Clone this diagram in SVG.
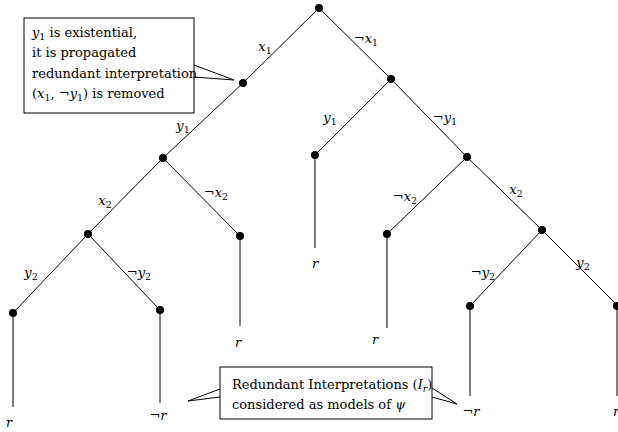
<svg xmlns="http://www.w3.org/2000/svg" width="618" height="432" viewBox="0 0 618 432">
<style>
.e{stroke:#000;stroke-width:1;fill:none}
.d{fill:#000}
.m{font-family:"DejaVu Serif","Liberation Serif",serif;font-size:13px;font-style:italic;text-anchor:middle}
.s{font-size:9.5px;font-style:normal}
.n{font-style:normal}
.t{font-family:"DejaVu Serif","Liberation Serif",serif;font-size:13px}
.box{fill:#fff;stroke:#000;stroke-width:1}
</style>
<rect width="618" height="432" fill="#fff"/>
<g id="connectors">
<line class="e" x1="319" y1="8" x2="243" y2="83"/>
<line class="e" x1="319" y1="8" x2="391" y2="79"/>
<line class="e" x1="243" y1="83" x2="163" y2="158"/>
<line class="e" x1="163" y1="158" x2="88" y2="234"/>
<line class="e" x1="163" y1="158" x2="240" y2="236"/>
<line class="e" x1="88" y1="234" x2="13" y2="313"/>
<line class="e" x1="88" y1="234" x2="160" y2="310"/>
<line class="e" x1="391" y1="79" x2="315" y2="155"/>
<line class="e" x1="391" y1="79" x2="467" y2="157"/>
<line class="e" x1="467" y1="157" x2="387" y2="234"/>
<line class="e" x1="467" y1="157" x2="542" y2="230"/>
<line class="e" x1="542" y1="230" x2="470" y2="306"/>
<line class="e" x1="542" y1="230" x2="618" y2="306"/>
<line class="e" x1="13" y1="313" x2="13" y2="407"/>
<line class="e" x1="160" y1="310" x2="160" y2="403"/>
<line class="e" x1="240" y1="236" x2="240" y2="326"/>
<line class="e" x1="315" y1="155" x2="315" y2="248"/>
<line class="e" x1="387" y1="234" x2="387" y2="328"/>
<line class="e" x1="470" y1="306" x2="470" y2="396"/>
<line class="e" x1="617" y1="306" x2="617" y2="396"/>
<text class="m" x="265" y="51">x<tspan class="s" dy="3">1</tspan></text>
<text class="m" x="366" y="43"><tspan class="n">¬</tspan>x<tspan class="s" dy="3">1</tspan></text>
<text class="m" x="183" y="130">y<tspan class="s" dy="3">1</tspan></text>
<text class="m" x="330" y="122">y<tspan class="s" dy="3">1</tspan></text>
<text class="m" x="445" y="122"><tspan class="n">¬</tspan>y<tspan class="s" dy="3">1</tspan></text>
<text class="m" x="105" y="205">x<tspan class="s" dy="3">2</tspan></text>
<text class="m" x="216" y="197"><tspan class="n">¬</tspan>x<tspan class="s" dy="3">2</tspan></text>
<text class="m" x="31" y="277">y<tspan class="s" dy="3">2</tspan></text>
<text class="m" x="139" y="277"><tspan class="n">¬</tspan>y<tspan class="s" dy="3">2</tspan></text>
<text class="m" x="405" y="201"><tspan class="n">¬</tspan>x<tspan class="s" dy="3">2</tspan></text>
<text class="m" x="516" y="194">x<tspan class="s" dy="3">2</tspan></text>
<text class="m" x="483" y="277"><tspan class="n">¬</tspan>y<tspan class="s" dy="3">2</tspan></text>
<text class="m" x="583" y="267">y<tspan class="s" dy="3">2</tspan></text>
</g>
<g id="root"><circle class="d" cx="319" cy="8" r="4"/></g>
<g id="n_x1"><circle class="d" cx="243" cy="83" r="4"/></g>
<g id="n_nx1"><circle class="d" cx="391" cy="79" r="4"/></g>
<g id="n_x1_y1"><circle class="d" cx="163" cy="158" r="4"/></g>
<g id="n_x1_y1_x2"><circle class="d" cx="88" cy="234" r="4"/></g>
<g id="n_x1_y1_nx2"><circle class="d" cx="240" cy="236" r="4"/><text class="m" x="238" y="347">r</text></g>
<g id="n_x1_y1_x2_y2"><circle class="d" cx="13" cy="313" r="4"/><text class="m" x="9" y="427">r</text></g>
<g id="n_x1_y1_x2_ny2"><circle class="d" cx="160" cy="310" r="4"/><text class="m" x="158" y="420"><tspan class="n">¬</tspan>r</text></g>
<g id="n_nx1_y1"><circle class="d" cx="315" cy="155" r="4"/><text class="m" x="315" y="268">r</text></g>
<g id="n_nx1_ny1"><circle class="d" cx="467" cy="157" r="4"/></g>
<g id="n_nx1_ny1_nx2"><circle class="d" cx="387" cy="234" r="4"/><text class="m" x="375" y="344">r</text></g>
<g id="n_nx1_ny1_x2"><circle class="d" cx="542" cy="230" r="4"/></g>
<g id="n_nx1_ny1_x2_ny2"><circle class="d" cx="470" cy="306" r="4"/><text class="m" x="471" y="416"><tspan class="n">¬</tspan>r</text></g>
<g id="n_nx1_ny1_x2_y2"><circle class="d" cx="617" cy="306" r="4"/><text class="m" x="616" y="416">r</text></g>
<g id="callout1">
<rect class="box" x="24" y="18" width="170" height="95"/>
<text class="t" x="32" y="37"><tspan font-style="italic">y</tspan><tspan font-size="9.5" dy="3">1</tspan><tspan dy="-3"> is existential,</tspan></text>
<text class="t" x="32" y="57">it is propagated</text>
<text class="t" x="32" y="78">redundant interpretation</text>
<text class="t" x="32" y="98">(<tspan font-style="italic">x</tspan><tspan font-size="9.5" dy="3">1</tspan><tspan dy="-3">, ¬</tspan><tspan font-style="italic">y</tspan><tspan font-size="9.5" dy="3">1</tspan><tspan dy="-3">) is removed</tspan></text>
<polyline class="e" points="194,65 234,80 194,77"/>
</g>
<g id="callout2">
<rect class="box" x="220" y="367" width="212" height="52"/>
<text class="t" x="232" y="389">Redundant Interpretations (<tspan font-style="italic">I</tspan><tspan font-style="italic" font-size="9.5" dy="3">r</tspan><tspan dy="-3">)</tspan></text>
<text class="t" x="232" y="409">considered as models of <tspan font-style="italic">ψ</tspan></text>
<polyline class="e" points="220,389 188,401 220,397"/>
<polyline class="e" points="432,388 457,404 432,397"/>
</g>
</svg>
